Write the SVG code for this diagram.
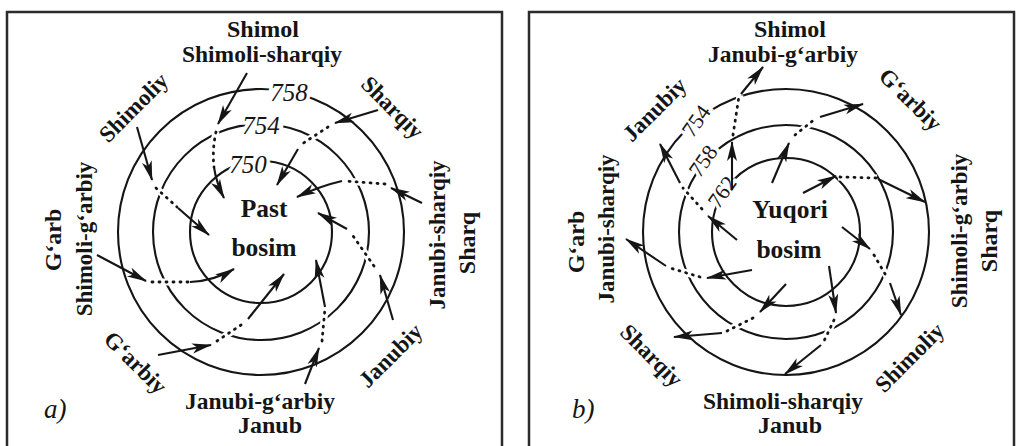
<svg xmlns="http://www.w3.org/2000/svg" width="1018" height="446" viewBox="0 0 1018 446">
<style>
.frame{fill:none;stroke:#2b2b2b;stroke-width:2.5}
.iso{fill:none;stroke:#151515;stroke-width:2.1}
.t{font-family:"Liberation Serif","Times New Roman",serif;font-weight:bold;fill:#151515;text-anchor:middle}
.big{font-size:24px}
.sub{font-size:23.5px}
.rot{font-size:23px}
.ctr{font-size:25.5px}
.num{font-family:"Liberation Serif","Times New Roman",serif;font-style:italic;font-size:25px;fill:#151515;text-anchor:middle;stroke:#fff;stroke-width:7;paint-order:stroke}
.numb{font-family:"Liberation Serif","Times New Roman",serif;font-size:22px;fill:#151515;text-anchor:middle;stroke:#fff;stroke-width:7;paint-order:stroke}
.tag{font-family:"Liberation Serif","Times New Roman",serif;font-style:italic;font-size:27px;fill:#151515}
.sol{fill:none;stroke:#151515;stroke-width:2.1;marker-end:url(#ah)}
.dot{fill:none;stroke:#151515;stroke-width:2.8;stroke-dasharray:1 6;stroke-linecap:round}
.era{fill:none;stroke:#fff;stroke-width:7}
</style>
<defs>
<marker id="ah" markerUnits="userSpaceOnUse" markerWidth="20" markerHeight="11" viewBox="0 0 20 11" refX="19" refY="5.5" orient="auto">
<path d="M0,0.5 L20,5.5 L0,10.5 L5,5.5 Z" fill="#151515"/>
</marker>
</defs>
<rect width="1018" height="446" fill="#fff"/>
<g id="frames">
<rect class="frame" x="7" y="12" width="495" height="445"/>
<rect class="frame" x="529" y="12" width="485" height="445"/>
</g>
<g id="isobars-a">
<circle class="iso" cx="261" cy="232" r="143"/>
<circle class="iso" cx="261" cy="232" r="108"/>
<circle class="iso" cx="261" cy="232" r="71"/>
</g>
<g id="isobars-b">
<circle class="iso" cx="786" cy="232" r="143"/>
<circle class="iso" cx="786" cy="232" r="107"/>
<circle class="iso" cx="786" cy="232" r="74"/>
</g>
<g id="isobar-values">
<text class="num" x="289" y="101">758</text>
<text class="num" x="261" y="134">754</text>
<text class="num" x="248" y="173">750</text>
<text class="numb" transform="translate(696,121) rotate(-55)" y="7.5">754</text>
<text class="numb" transform="translate(703,161) rotate(-55)" y="7.5">758</text>
<text class="numb" transform="translate(722,192) rotate(-55)" y="7.5">762</text>
</g>
<g id="connectors">
<g id="erasers">
<path class="era" d="M216,131 Q212,150 214,167"/>
<path class="era" d="M155,187 L177,207"/>
<path class="era" d="M328,127 L302,144"/>
<path class="era" d="M386,184 L344,181"/>
<path class="era" d="M374,266 L351,233"/>
<path class="era" d="M322,341 L325,308"/>
<path class="era" d="M216,342 L245,323"/>
<path class="era" d="M150,282 L189,282"/>
<path class="era" d="M733,136 L740,95"/>
<path class="era" d="M794,136 L816,119"/>
<path class="era" d="M838,177 L877,178"/>
<path class="era" d="M873,253 L889,280"/>
<path class="era" d="M835,318 L823,343"/>
<path class="era" d="M754,318 L724,332"/>
<path class="era" d="M702,277 L668,268"/>
<path class="era" d="M703,210 L681,186"/>
</g>
<g id="flow-a">
<path class="sol" d="M247,73 L218,124"/>
<path class="dot" d="M216,132 Q212,150 214,167"/>
<path class="sol" d="M214,167 Q216,182 224,198"/>
<path class="sol" d="M137,127 L152,180"/>
<path class="dot" d="M156,188 L177,207"/>
<path class="sol" d="M178,208 L209,235"/>
<path class="sol" d="M378,110 L335,123"/>
<path class="dot" d="M328,127 L302,144"/>
<path class="sol" d="M298,149 L277,185"/>
<path class="sol" d="M422,203 L391,188"/>
<path class="dot" d="M385,184 L344,181"/>
<path class="sol" d="M342,181 Q320,186 297,197"/>
<path class="sol" d="M393,320 L380,275"/>
<path class="dot" d="M374,266 L351,233"/>
<path class="sol" d="M347,229 L318,213"/>
<path class="sol" d="M305,384 L319,348"/>
<path class="dot" d="M322,341 L325,308"/>
<path class="sol" d="M325,307 L316,260"/>
<path class="sol" d="M158,355 L211,345"/>
<path class="dot" d="M217,341 L244,323"/>
<path class="sol" d="M248,319 L284,274"/>
<path class="sol" d="M97,255 L146,281"/>
<path class="dot" d="M152,282 L188,282"/>
<path class="sol" d="M190,282 Q214,281 234,269"/>
</g>
<g id="flow-b">
<path class="sol" d="M732,190 L732,142"/>
<path class="dot" d="M733,135 L739,96"/>
<path class="sol" d="M741,94 L763,67"/>
<path class="sol" d="M772,183 L789,143"/>
<path class="dot" d="M795,135 L815,119"/>
<path class="sol" d="M820,117 L863,104"/>
<path class="sol" d="M803,193 L836,176"/>
<path class="dot" d="M840,177 L876,178"/>
<path class="sol" d="M878,179 L925,202"/>
<path class="sol" d="M842,227 L870,249"/>
<path class="dot" d="M874,255 L888,279"/>
<path class="sol" d="M890,283 L901,315"/>
<path class="sol" d="M829,266 L836,313"/>
<path class="dot" d="M834,320 L824,341"/>
<path class="sol" d="M821,345 L785,374"/>
<path class="sol" d="M786,284 L760,312"/>
<path class="dot" d="M753,318 L727,331"/>
<path class="sol" d="M722,333 L674,337"/>
<path class="sol" d="M752,270 L707,278"/>
<path class="dot" d="M700,277 L670,268"/>
<path class="sol" d="M666,266 L626,239"/>
<path class="sol" d="M737,240 L708,216"/>
<path class="dot" d="M702,209 L683,188"/>
<path class="sol" d="M680,183 L660,144"/>
</g>
</g>
<g id="labels-a">
<g id="a-shimol"><text class="t big" x="263" y="37">Shimol</text></g>
<g id="a-shimoli-sharqiy"><text class="t sub" x="262" y="62">Shimoli-sharqiy</text></g>
<g id="a-center"><text class="t ctr" x="264" y="217">Past</text><text class="t ctr" x="264" y="256">bosim</text></g>
<g id="a-janubi-garbiy"><text class="t sub" x="260" y="409">Janubi-g‘arbiy</text></g>
<g id="a-janub"><text class="t big" x="270" y="433">Janub</text></g>
<g id="a-shimoliy"><text class="t rot" transform="translate(134,108) rotate(-45)" y="7">Shimoliy</text></g>
<g id="a-sharqiy"><text class="t rot" transform="translate(392,108) rotate(45)" y="7">Sharqiy</text></g>
<g id="a-garbiy"><text class="t rot" transform="translate(135,363) rotate(45)" y="7">G‘arbiy</text></g>
<g id="a-janubiy"><text class="t rot" transform="translate(391,356) rotate(-45)" y="7">Janubiy</text></g>
<g id="a-garb"><text class="t big" transform="translate(53,240) rotate(-90)" y="8">G‘arb</text></g>
<g id="a-shimoli-garbiy"><text class="t rot" transform="translate(85,239) rotate(-90)" y="7">Shimoli-g‘arbiy</text></g>
<g id="a-janubi-sharqiy"><text class="t rot" transform="translate(438,235) rotate(-90)" y="7">Janubi-sharqiy</text></g>
<g id="a-sharq"><text class="t big" transform="translate(467,243) rotate(-90)" y="8">Sharq</text></g>
<g id="a-tag"><text class="tag" x="44" y="418">a)</text></g>
</g>
<g id="labels-b">
<g id="b-shimol"><text class="t big" x="790" y="37">Shimol</text></g>
<g id="b-janubi-garbiy"><text class="t sub" x="783" y="62">Janubi-g‘arbiy</text></g>
<g id="b-center"><text class="t ctr" x="790" y="218">Yuqori</text><text class="t ctr" x="789" y="258">bosim</text></g>
<g id="b-shimoli-sharqiy"><text class="t sub" x="783" y="409">Shimoli-sharqiy</text></g>
<g id="b-janub"><text class="t big" x="790" y="433">Janub</text></g>
<g id="b-janubiy"><text class="t rot" transform="translate(655,110) rotate(-45)" y="7">Janubiy</text></g>
<g id="b-garbiy"><text class="t rot" transform="translate(910,100) rotate(45)" y="7">G‘arbiy</text></g>
<g id="b-sharqiy"><text class="t rot" transform="translate(651,356) rotate(45)" y="7">Sharqiy</text></g>
<g id="b-shimoliy"><text class="t rot" transform="translate(910,358) rotate(-45)" y="7">Shimoliy</text></g>
<g id="b-garb"><text class="t big" transform="translate(576,242) rotate(-90)" y="8">G‘arb</text></g>
<g id="b-janubi-sharqiy"><text class="t rot" transform="translate(607,229) rotate(-90)" y="7">Janubi-sharqiy</text></g>
<g id="b-shimoli-garbiy"><text class="t rot" transform="translate(960,231) rotate(-90)" y="7">Shimoli-g‘arbiy</text></g>
<g id="b-sharq"><text class="t big" transform="translate(989,241) rotate(-90)" y="8">Sharq</text></g>
<g id="b-tag"><text class="tag" x="572" y="418">b)</text></g>
</g>
</svg>
